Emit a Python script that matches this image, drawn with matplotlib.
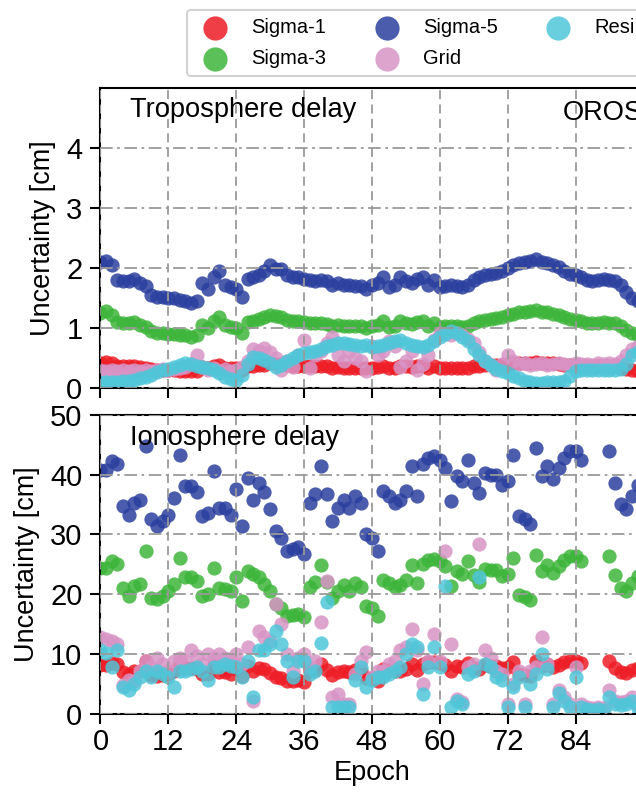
import numpy as np
import matplotlib
matplotlib.use("Agg")
from matplotlib import pyplot as plt

plt.rcParams['font.family'] = ['Liberation Sans', 'DejaVu Sans']

epochs = np.arange(0, 97)
nan = np.nan

# troposphere delay uncertainty [cm]
tropo_sigma1 = [0.42, 0.43, 0.41, 0.36, 0.36, 0.36, 0.37, 0.35, 0.34, 0.31,
                0.30, 0.30, 0.30, 0.30, 0.29, 0.29, 0.28, 0.29, 0.35, 0.33,
                0.37, 0.39, 0.34, 0.34, 0.33, 0.30, 0.36, 0.37, 0.38, 0.39,
                0.41, 0.40, 0.40, 0.38, 0.37, 0.37, 0.36, 0.36, 0.36, 0.36,
                0.36, 0.34, 0.35, 0.34, 0.34, 0.34, 0.34, 0.33, 0.34, 0.35,
                0.37, 0.34, 0.34, 0.37, 0.36, 0.35, 0.36, 0.37, 0.34, 0.36,
                0.34, 0.34, 0.34, 0.34, 0.34, 0.34, 0.36, 0.37, 0.38, 0.38,
                0.38, 0.39, 0.40, 0.41, 0.42, 0.42, 0.42, 0.43, 0.42, 0.42,
                0.41, 0.40, 0.39, 0.38, 0.38, 0.37, 0.36, 0.36, 0.36, 0.36,
                0.36, 0.36, 0.34, 0.32, 0.30, 0.29, 0.29]
tropo_sigma3 = [1.25, 1.28, 1.22, 1.10, 1.08, 1.08, 1.10, 1.05, 1.02, 0.95,
                0.92, 0.92, 0.90, 0.90, 0.88, 0.88, 0.85, 0.88, 1.05, 1.00,
                1.12, 1.18, 1.05, 1.02, 1.00, 0.92, 1.10, 1.12, 1.15, 1.18,
                1.22, 1.20, 1.18, 1.13, 1.12, 1.12, 1.10, 1.08, 1.08, 1.08,
                1.07, 1.04, 1.05, 1.04, 1.04, 1.03, 1.03, 1.00, 1.04, 1.05,
                1.12, 1.02, 1.04, 1.12, 1.08, 1.06, 1.10, 1.12, 1.04, 1.09,
                1.02, 1.03, 1.04, 1.03, 1.02, 1.04, 1.09, 1.12, 1.14, 1.15,
                1.16, 1.18, 1.21, 1.24, 1.26, 1.27, 1.28, 1.30, 1.27, 1.26,
                1.24, 1.22, 1.18, 1.15, 1.14, 1.12, 1.09, 1.08, 1.09, 1.10,
                1.09, 1.08, 1.04, 0.97, 0.91, 0.88, 0.88]
tropo_sigma5 = [2.10, 2.12, 2.05, 1.80, 1.78, 1.78, 1.82, 1.75, 1.70, 1.55,
                1.52, 1.52, 1.50, 1.50, 1.47, 1.45, 1.42, 1.45, 1.75, 1.65,
                1.85, 1.95, 1.72, 1.68, 1.65, 1.52, 1.82, 1.85, 1.88, 1.95,
                2.05, 1.98, 1.98, 1.88, 1.85, 1.85, 1.82, 1.80, 1.78, 1.80,
                1.78, 1.72, 1.75, 1.72, 1.72, 1.70, 1.70, 1.65, 1.72, 1.75,
                1.85, 1.68, 1.72, 1.85, 1.78, 1.75, 1.82, 1.85, 1.72, 1.80,
                1.68, 1.70, 1.72, 1.70, 1.68, 1.72, 1.80, 1.85, 1.88, 1.90,
                1.92, 1.95, 2.00, 2.05, 2.08, 2.10, 2.12, 2.15, 2.10, 2.08,
                2.05, 2.02, 1.95, 1.90, 1.88, 1.85, 1.80, 1.78, 1.80, 1.82,
                1.80, 1.78, 1.72, 1.60, 1.50, 1.45, 1.45]
tropo_grid = [0.30, 0.28, 0.30, 0.28, 0.30, 0.29, 0.30, 0.28, 0.30, 0.29,
              0.30, 0.31, 0.30, 0.32, 0.33, 0.35, 0.40, 0.55, 0.35, 0.30,
              0.33, 0.28, 0.32, 0.28, 0.30, 0.35, 0.45, 0.65, 0.62, 0.66,
              0.60, 0.50, 0.30, 0.45, 0.35, 0.55, 0.80, 0.33, 0.55, 0.62,
              0.75, 0.85, 0.55, 0.45, 0.62, 0.50, 0.45, 0.28, 0.70, 0.55,
              0.62, 0.78, 0.70, 0.35, 0.45, 0.62, 0.30, 0.40, 0.55, 0.80,
              0.92, 0.90, 0.88, 0.92, 0.88, 0.82, 0.75, 0.60, 0.45, 0.38,
              0.30, 0.40, 0.55, 0.45, 0.40, 0.42, 0.38, 0.40, 0.42, 0.38,
              0.40, 0.42, 0.40, 0.38, 0.42, 0.40, 0.40, 0.38, 0.42, 0.40,
              0.42, 0.40, 0.45, 0.55, 0.65, 0.70, 0.70]
tropo_resi = [0.10, 0.10, 0.10, 0.10, 0.11, 0.12, 0.14, 0.16, 0.18, 0.22,
              0.26, 0.30, 0.32, 0.35, 0.38, 0.42, 0.40, 0.36, 0.35, 0.34,
              0.30, 0.25, 0.18, 0.15, 0.14, 0.22, 0.40, 0.52, 0.50, 0.47,
              0.42, 0.35, 0.38, 0.45, 0.50, 0.55, 0.58, 0.60, 0.62, 0.65,
              0.70, 0.72, 0.75, 0.75, 0.73, 0.72, 0.70, 0.72, 0.68, 0.70,
              0.72, 0.75, 0.78, 0.80, 0.75, 0.72, 0.70, 0.68, 0.72, 0.78,
              0.85, 0.90, 0.95, 0.92, 0.85, 0.78, 0.65, 0.55, 0.45, 0.38,
              0.32, 0.28, 0.25, 0.20, 0.16, 0.12, 0.10, 0.09, 0.09, 0.10,
              0.10, 0.10, 0.12, 0.20, 0.28, 0.30, 0.30, 0.30, 0.30, 0.30,
              0.30, 0.30, 0.32, 0.40, 0.55, 0.60, 0.62]

# ionosphere delay uncertainty [cm]
iono_sigma1 = [8.2, 8.2, 8.4, 8.3, 6.9, 6.7, 7.1, 7.2, 8.9, 6.5,
               6.3, 6.4, 6.7, 7.2, 8.7, 7.6, 7.6, 7.4, 6.6, 6.7,
               8.1, 6.9, 6.9, 6.7, 7.5, 6.3, 7.9, 7.2, 7.7, 7.4,
               6.8, 6.1, 5.9, 5.4, 5.5, 5.6, 5.3, 7.1, 7.3, 8.3,
               7.3, 6.4, 6.9, 7.2, 6.9, 7.3, 7.1, 6.0, 5.9, 5.4,
               7.4, 7.3, 7.1, 7.2, 7.4, 8.3, 7.3, 8.3, 8.6, 8.6,
               8.5, 8.2, 7.1, 7.9, 7.8, 8.5, 7.7, 7.4, 8.1, 8.0,
               8.0, 7.7, 7.8, 8.7, 6.6, 6.5, 6.3, 8.9, 7.9, 8.3,
               7.8, 8.2, 8.6, 8.8, 8.8, 8.5, nan, nan, nan, nan,
               8.8, 7.7, 7.0, 6.8, 7.3, 7.7, 8.0]
iono_sigma3 = [24.4, 24.4, 25.6, 25.0, 21.1, 19.7, 21.4, 21.7, 27.2, 19.4,
               19.2, 19.7, 20.6, 21.7, 26.1, 22.8, 22.8, 22.2, 19.7, 20.0,
               24.4, 21.1, 20.8, 20.6, 22.8, 18.9, 23.9, 23.3, 22.8, 21.7,
               20.6, 18.3, 17.6, 16.3, 16.5, 16.7, 16.1, 21.2, 22.0, 24.8,
               22.0, 19.3, 20.6, 21.5, 20.6, 21.8, 21.2, 18.0, 17.6, 16.3,
               22.3, 21.8, 21.2, 21.5, 22.3, 24.8, 21.8, 25.0, 25.7, 25.9,
               25.5, 24.7, 21.4, 23.8, 23.3, 25.5, 23.2, 22.1, 24.2, 24.0,
               24.0, 23.0, 23.3, 26.0, 19.9, 19.5, 19.0, 26.6, 23.8, 24.8,
               23.5, 24.7, 25.7, 26.3, 26.3, 25.5, nan, nan, nan, nan,
               26.3, 23.2, 21.0, 20.5, 21.8, 23.0, 24.0]
iono_sigma5 = [40.8, 40.8, 42.2, 41.7, 34.7, 33.3, 35.3, 35.8, 44.7, 32.5,
               31.4, 32.2, 33.3, 36.1, 43.3, 38.0, 38.0, 37.0, 33.0, 33.6,
               40.6, 34.4, 34.4, 33.3, 37.5, 31.4, 39.4, 35.8, 38.6, 37.0,
               34.2, 30.6, 29.4, 27.2, 27.5, 27.8, 26.7, 35.3, 36.7, 41.4,
               36.7, 32.2, 34.4, 35.8, 34.4, 36.4, 35.3, 30.0, 29.4, 27.2,
               37.2, 36.4, 35.3, 35.8, 37.2, 41.4, 36.4, 41.7, 42.8, 43.1,
               42.5, 41.1, 35.6, 39.7, 38.9, 42.5, 38.6, 36.9, 40.3, 40.0,
               40.0, 38.3, 38.9, 43.3, 33.1, 32.5, 31.7, 44.4, 39.7, 41.4,
               39.2, 41.1, 42.8, 43.9, 43.9, 42.5, nan, nan, nan, nan,
               43.9, 38.6, 35.0, 34.2, 36.4, 38.3, 40.0]
iono_grid = [12.8, 12.5, 12.2, 11.7, 4.8, 5.6, 5.5, 7.2, 8.9, 7.8,
             9.4, 8.3, 7.2, 8.9, 9.4, 8.9, 10.6, 9.7, 8.3, 10.0,
             9.4, 10.0, 9.4, 9.0, 10.0, 8.3, 11.1, 2.2, 13.9, 12.8,
             12.2, 18.3, 15.0, 10.0, 7.2, 9.4, 10.0, 7.8, 8.9, 15.3,
             22.2, 2.8, 3.3, 1.7, 1.7, 6.7, 8.9, 10.3, 6.1, 7.2,
             7.2, 8.3, 8.9, 10.6, 11.1, 14.2, 10.6, 5.0, 8.9, 13.3,
             8.9, 27.2, 11.7, 2.5, 2.0, 7.8, 8.3, 28.3, 10.6, 9.4,
             7.2, 6.7, 1.7, 5.0, 7.2, 1.7, 7.2, 7.8, 12.8, 8.3,
             1.7, 3.9, 2.8, 1.7, 7.8, 1.7, 1.2, 1.0, 1.2, 1.0,
             3.9, 2.2, 2.0, 2.2, 2.8, 1.5, 1.2]
iono_resi = [10.6, 10.2, 7.8, 10.6, 4.4, 3.9, 5.0, 6.1, 7.2, 6.1,
             7.2, 6.6, 6.1, 4.4, 7.2, 7.2, 7.5, 7.8, 7.2, 5.6,
             7.8, 7.8, 8.3, 8.0, 7.8, 6.1, 8.9, 2.8, 10.6, 10.6,
             11.7, 13.9, 11.7, 8.9, 6.1, 8.9, 8.9, 6.7, 7.2, 11.9,
             18.6, 1.1, 1.1, 1.1, 1.1, 5.6, 7.8, 4.4, 5.6, 6.1,
             6.1, 6.7, 7.2, 7.8, 10.0, 11.7, 11.1, 3.3, 7.8, 11.1,
             7.8, 21.4, 1.1, 2.2, 1.7, 6.7, 7.2, 22.8, 8.3, 7.8,
             6.1, 5.6, 1.1, 4.4, 6.1, 1.1, 5.0, 6.7, 10.0, 7.5,
             1.1, 3.5, 2.2, 1.1, 6.1, 1.1, 0.8, 0.6, 0.8, 0.6,
             2.8, 1.7, 1.5, 1.7, 2.2, 1.0, 0.8]

labels = ['Sigma-1', 'Sigma-3', 'Sigma-5', 'Grid', 'Resi']
colors = ['#EE1C25', '#3DB53A', '#2B3F9E', '#D894C6', '#4FC6D9']

tropo = [tropo_sigma1, tropo_sigma3, tropo_sigma5, tropo_grid, tropo_resi]
iono = [iono_sigma1, iono_sigma3, iono_sigma5, iono_grid, iono_resi]

fig = plt.figure(figsize=(6.36, 7.98), dpi=100)
ax1 = fig.add_axes([0.158, 0.5138, 0.8536, 0.3759])
ax2 = fig.add_axes([0.158, 0.1056, 0.8536, 0.3747], sharex=ax1)

for ax, series in [(ax1, tropo), (ax2, iono)]:
    for vals, c, lab in zip(series, colors, labels):
        ax.scatter(epochs, vals, s=105, color=c, alpha=0.85, linewidths=0, label=lab)
    # grid sits on top of the markers
    ax.set_axisbelow(False)
    ax.xaxis.grid(True, linestyle=(0, (5, 3)), color='#9A9A9A', linewidth=1.3)
    ax.yaxis.grid(True, linestyle=(0, (7, 2.5, 1.5, 2.5)), color='#9A9A9A', linewidth=1.3)
    for sp in ax.spines.values():
        sp.set_linewidth(1.5)
    ax.tick_params(direction='out', length=7, width=1.5, labelsize=21)
    ax.tick_params(axis='y', pad=6)
    ax.set_ylabel('Uncertainty [cm]', fontsize=19.5, labelpad=7)

ax1.set_xlim(0, 96)
ax1.set_xticks(np.arange(0, 96, 12))
ax1.tick_params(labelbottom=False)
ax1.set_ylim(0, 5)
ax1.set_yticks([0, 1, 2, 3, 4])
ax2.set_ylim(0, 50)
ax2.set_yticks(np.arange(0, 51, 10))
ax2.set_xlabel('Epoch', fontsize=19.5, labelpad=3)

ax1.text(0.054, 0.903, 'Troposphere delay', transform=ax1.transAxes, fontsize=19.6, va='baseline')
ax1.text(0.852, 0.893, 'OROS', transform=ax1.transAxes, fontsize=19.6, va='baseline')
ax2.text(0.054, 0.899, 'Ionosphere delay', transform=ax2.transAxes, fontsize=19.6, va='baseline')

handles, labs = ax1.get_legend_handles_labels()
leg = fig.legend(handles, labs, ncol=3, loc='upper left',
                 bbox_to_anchor=(187 / 636, 1 - 10 / 798), borderaxespad=0,
                 fontsize=14.5, markerscale=1.7, frameon=True, fancybox=True,
                 edgecolor='#C8C8C8', columnspacing=2.0, handletextpad=0.8,
                 labelspacing=0.6)
leg.get_frame().set_linewidth(1.5)
for h in leg.legend_handles:
    h.set_alpha(0.85)

fig.savefig('out.png', dpi=100)
